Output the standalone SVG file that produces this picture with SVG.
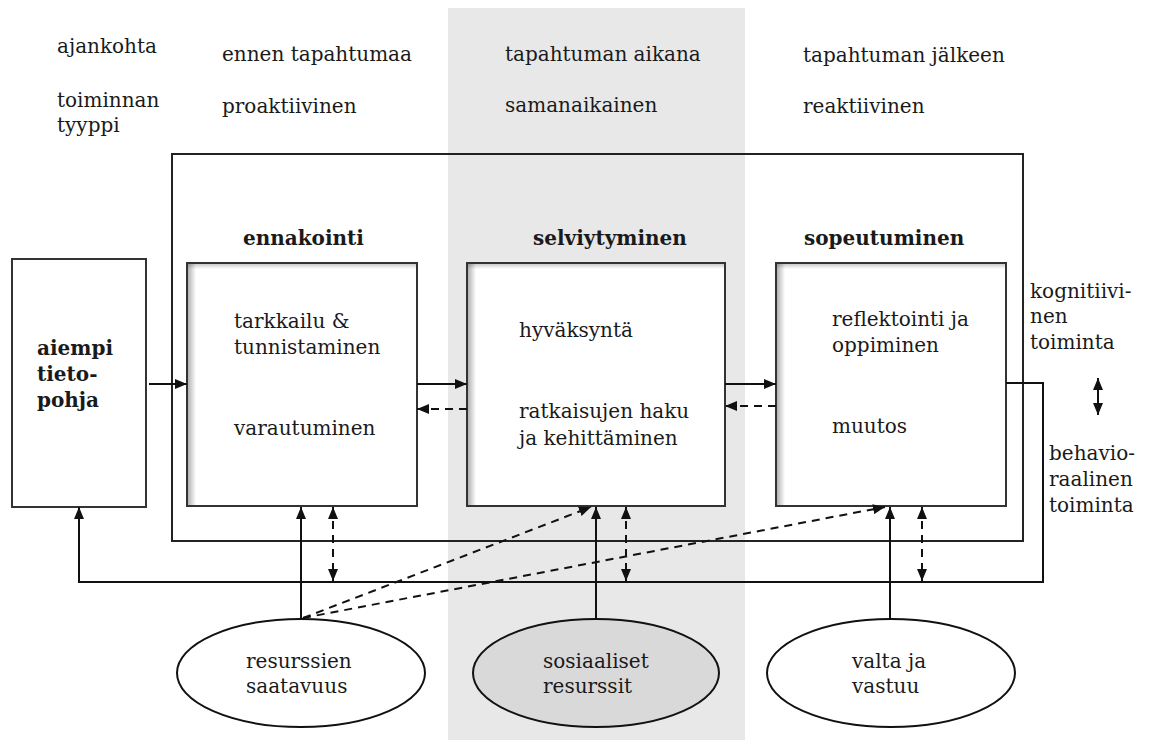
<svg xmlns="http://www.w3.org/2000/svg" width="1150" height="740" viewBox="0 0 1150 740">
<style>
text{font-family:"DejaVu Serif","Liberation Serif",serif;font-size:20px;fill:#1a1a1a}
.b{font-weight:bold}
.box{fill:#fff;stroke:#333;stroke-width:2}
.ln{fill:none;stroke:#111;stroke-width:2}
.da{fill:none;stroke:#111;stroke-width:2;stroke-dasharray:8 6}
</style>
<defs>
<marker id="ah" viewBox="0 0 12 10" refX="12" refY="5" markerWidth="12" markerHeight="10" markerUnits="userSpaceOnUse" orient="auto-start-reverse"><path d="M0,0 L12,5 L0,10 z" fill="#111"/></marker>
<linearGradient id="sl" x1="0" y1="0" x2="1" y2="0"><stop offset="0" stop-color="#000" stop-opacity="0.3"/><stop offset="1" stop-color="#000" stop-opacity="0"/></linearGradient>
<linearGradient id="st" x1="0" y1="0" x2="0" y2="1"><stop offset="0" stop-color="#000" stop-opacity="0.2"/><stop offset="1" stop-color="#000" stop-opacity="0"/></linearGradient>
</defs>
<rect x="0" y="0" width="1150" height="740" fill="#fff"/>
<rect x="448" y="8" width="297" height="732" fill="#e8e8e8"/>

<g id="headers">
<text x="57" y="53">ajankohta</text>
<text x="57" y="107">toiminnan</text>
<text x="57" y="132">tyyppi</text>
<text x="222" y="61">ennen tapahtumaa</text>
<text x="222" y="113">proaktiivinen</text>
<text x="505" y="61">tapahtuman aikana</text>
<text x="505" y="112">samanaikainen</text>
<text x="803" y="62">tapahtuman jälkeen</text>
<text x="803" y="113">reaktiivinen</text>
</g>

<g id="outer"><rect x="172" y="154" width="851" height="387" fill="none" stroke="#222" stroke-width="2"/></g>

<g id="tietopohja">
<rect x="12" y="259" width="134" height="248" class="box"/>
<text class="b" x="37" y="355">aiempi</text>
<text class="b" x="37" y="381">tieto-</text>
<text class="b" x="37" y="407">pohja</text>
</g>

<g id="ennakointi">
<text class="b" x="243" y="245">ennakointi</text>
<rect x="187" y="263" width="230" height="243" class="box"/>
<rect x="188" y="264" width="8" height="241" fill="url(#sl)"/>
<rect x="188" y="264" width="228" height="5" fill="url(#st)"/>
<text x="234" y="328">tarkkailu &amp;</text>
<text x="234" y="354">tunnistaminen</text>
<text x="234" y="435">varautuminen</text>
</g>

<g id="selviytyminen">
<text class="b" x="533" y="245">selviytyminen</text>
<rect x="467" y="263" width="258" height="243" class="box"/>
<rect x="468" y="264" width="8" height="241" fill="url(#sl)"/>
<rect x="468" y="264" width="256" height="5" fill="url(#st)"/>
<text x="519" y="337">hyväksyntä</text>
<text x="519" y="418">ratkaisujen haku</text>
<text x="519" y="445">ja kehittäminen</text>
</g>

<g id="sopeutuminen">
<text class="b" x="804" y="245">sopeutuminen</text>
<rect x="776" y="263" width="230" height="243" class="box"/>
<rect x="777" y="264" width="8" height="241" fill="url(#sl)"/>
<rect x="777" y="264" width="228" height="5" fill="url(#st)"/>
<text x="832" y="326">reflektointi ja</text>
<text x="832" y="352">oppiminen</text>
<text x="832" y="433">muutos</text>
</g>

<g id="toiminta">
<text x="1030" y="298">kognitiivi-</text>
<text x="1030" y="323">nen</text>
<text x="1030" y="349">toiminta</text>
<text x="1049" y="460">behavio-</text>
<text x="1049" y="486">raalinen</text>
<text x="1049" y="512">toiminta</text>
</g>

<g id="resurssien">
<ellipse cx="301" cy="673" rx="124" ry="54" fill="#fff" stroke="#111" stroke-width="2"/>
<text x="246" y="668">resurssien</text>
<text x="246" y="693">saatavuus</text>
</g>
<g id="sosiaaliset">
<ellipse cx="596" cy="673" rx="123" ry="54" fill="#d9d9d9" stroke="#111" stroke-width="2"/>
<text x="543" y="668">sosiaaliset</text>
<text x="543" y="693">resurssit</text>
</g>
<g id="valta">
<ellipse cx="891" cy="673" rx="124" ry="54" fill="#fff" stroke="#111" stroke-width="2"/>
<text x="852" y="668">valta ja</text>
<text x="852" y="693">vastuu</text>
</g>

<g id="connectors">
<line x1="149" y1="384" x2="187" y2="384" class="ln" marker-end="url(#ah)"/>
<line x1="417" y1="384" x2="467" y2="384" class="ln" marker-end="url(#ah)"/>
<line x1="467" y1="409" x2="417" y2="409" class="da" marker-end="url(#ah)"/>
<line x1="725" y1="384" x2="776" y2="384" class="ln" marker-end="url(#ah)"/>
<line x1="776" y1="406" x2="725" y2="406" class="da" marker-end="url(#ah)"/>
<polyline points="1006,383 1043,383 1043,582 79,582 79,507" class="ln" marker-end="url(#ah)"/>
<line x1="1098" y1="378" x2="1098" y2="415" class="ln" marker-start="url(#ah)" marker-end="url(#ah)"/>
<line x1="301" y1="619" x2="301" y2="507" class="ln" marker-end="url(#ah)"/>
<line x1="596" y1="619" x2="596" y2="507" class="ln" marker-end="url(#ah)"/>
<line x1="890" y1="619" x2="890" y2="507" class="ln" marker-end="url(#ah)"/>
<line x1="333" y1="507" x2="333" y2="581" class="da" marker-start="url(#ah)" marker-end="url(#ah)"/>
<line x1="626" y1="507" x2="626" y2="581" class="da" marker-start="url(#ah)" marker-end="url(#ah)"/>
<line x1="922" y1="507" x2="922" y2="581" class="da" marker-start="url(#ah)" marker-end="url(#ah)"/>
<line x1="303" y1="618" x2="591" y2="507" class="da" marker-end="url(#ah)"/>
<line x1="303" y1="618" x2="885" y2="507" class="da" marker-end="url(#ah)"/>
</g>
</svg>
